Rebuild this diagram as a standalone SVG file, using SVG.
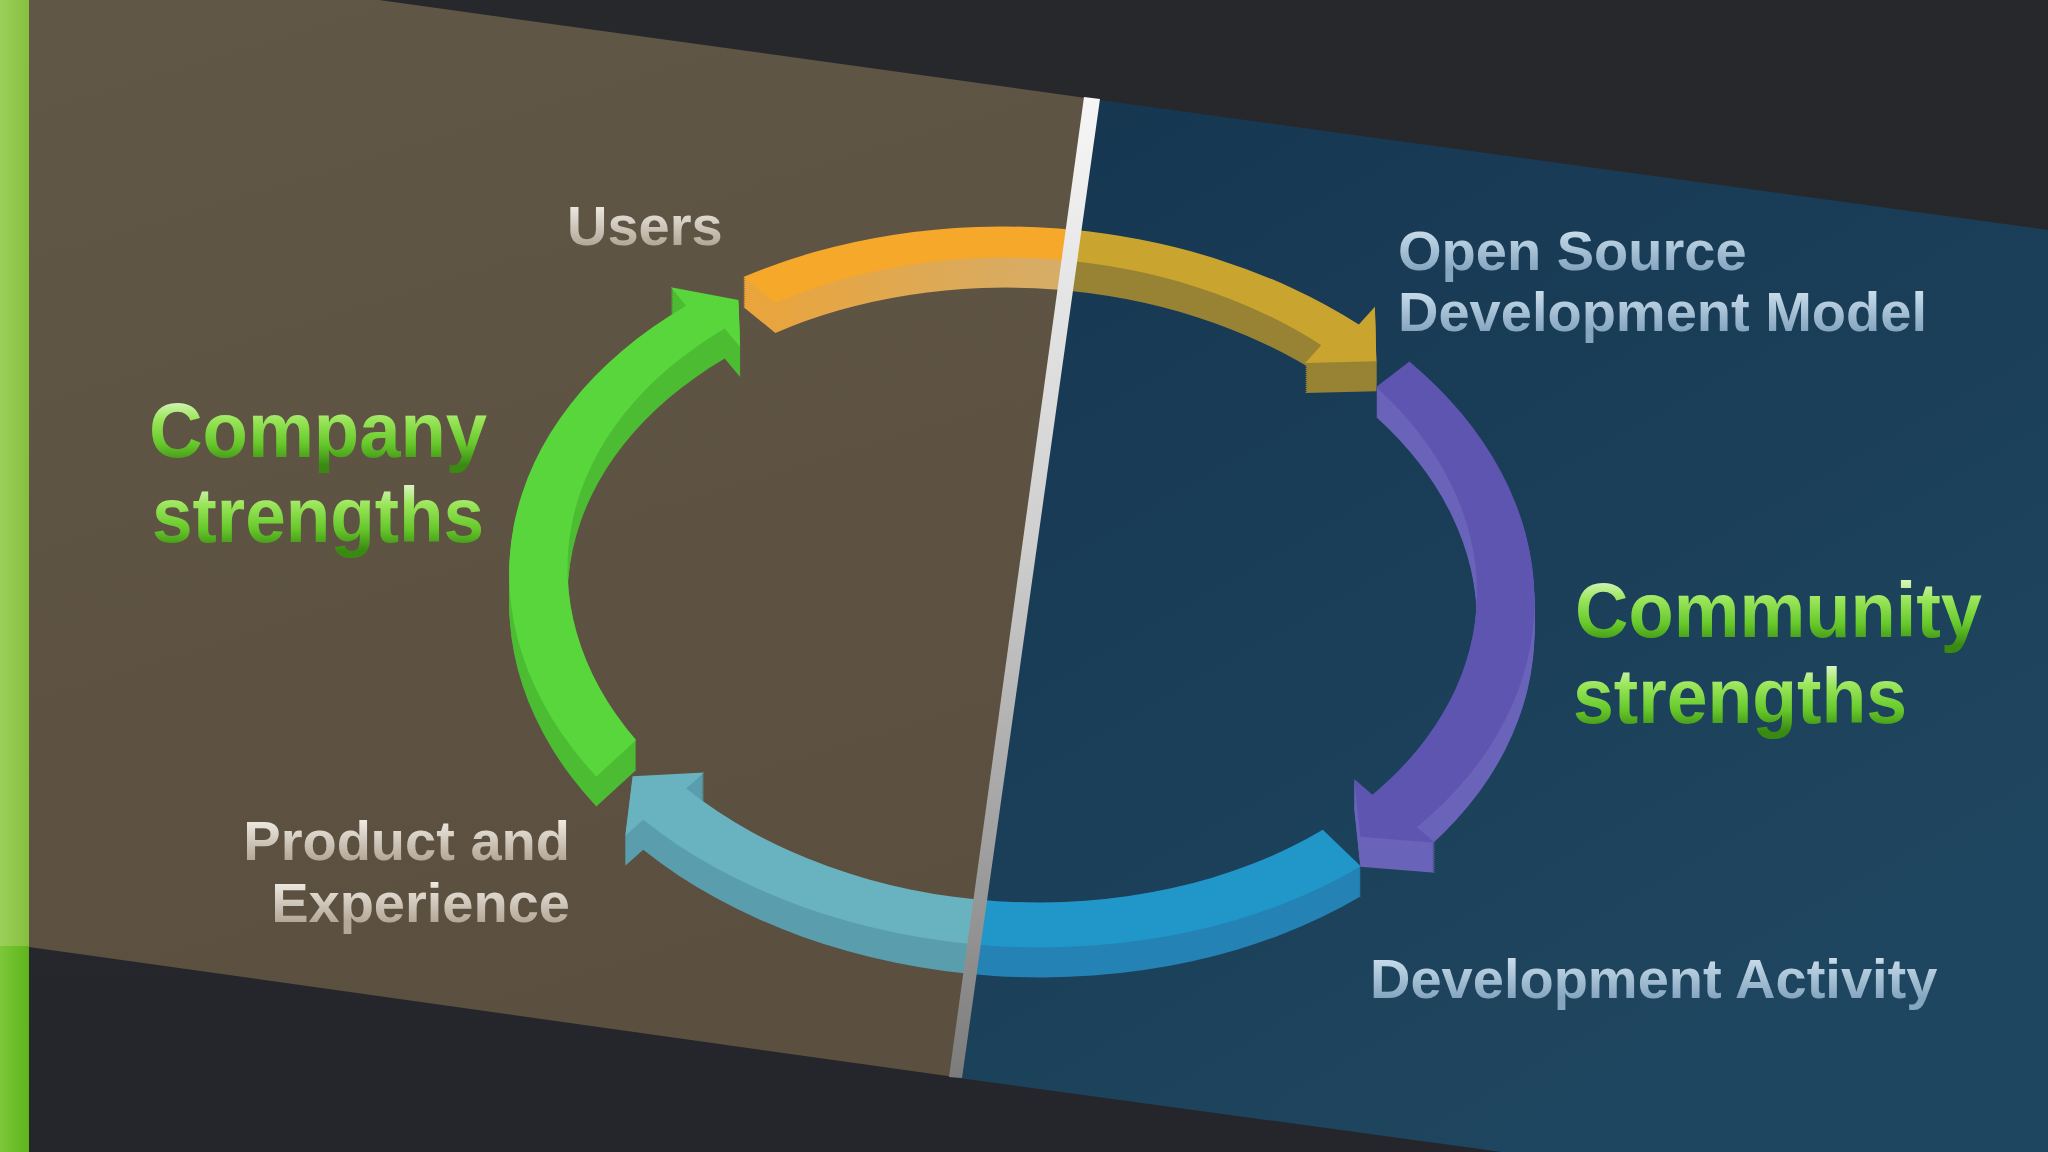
<svg xmlns="http://www.w3.org/2000/svg" width="2048" height="1152" viewBox="0 0 2048 1152">
<defs>
<style>
.lbl{font-family:"Liberation Sans",Arial,Helvetica,sans-serif;font-weight:bold;font-size:56px}
.warm{fill:url(#gWarm)}
.cool{fill:url(#gCool)}
.big{font-family:"Liberation Sans",Arial,Helvetica,sans-serif;font-weight:bold;font-size:78px;fill:url(#gGreen)}
</style>
<linearGradient id="gDark" x1="0" y1="0" x2="0" y2="1">
<stop offset="0" stop-color="#26282c"/><stop offset="1" stop-color="#24262b"/>
</linearGradient>
<linearGradient id="gStrip" x1="0" y1="0" x2="1" y2="0">
<stop offset="0" stop-color="#9ccf5a"/><stop offset="1" stop-color="#86c03e"/>
</linearGradient>
<linearGradient id="gStrip2" x1="0" y1="0" x2="1" y2="0">
<stop offset="0" stop-color="#7cc83a"/><stop offset="1" stop-color="#5fb41c"/>
</linearGradient>
<linearGradient id="gBrown" x1="0" y1="0" x2="0.3" y2="1">
<stop offset="0" stop-color="#615746"/><stop offset="1" stop-color="#5b5040"/>
</linearGradient>
<linearGradient id="gBlue" x1="0" y1="0" x2="0.6" y2="1">
<stop offset="0" stop-color="#163650"/><stop offset="1" stop-color="#1f4660"/>
</linearGradient>
<linearGradient id="gDiv" gradientUnits="userSpaceOnUse" x1="0" y1="98" x2="0" y2="1078">
<stop offset="0" stop-color="#f6f6f6"/><stop offset="0.45" stop-color="#cfcfcf"/><stop offset="1" stop-color="#7c7c7c"/>
</linearGradient>
<linearGradient id="gWarm" x1="0" y1="0" x2="0" y2="1">
<stop offset="0.1" stop-color="#f6f2ec"/><stop offset="0.8" stop-color="#b4a999"/>
</linearGradient>
<linearGradient id="gCool" x1="0" y1="0" x2="0" y2="1">
<stop offset="0.1" stop-color="#d2e4f0"/><stop offset="0.8" stop-color="#86a6c0"/>
</linearGradient>
<linearGradient id="gGreen" x1="0" y1="0" x2="0" y2="1">
<stop offset="0.12" stop-color="#e4f8d2"/><stop offset="0.38" stop-color="#9ae65a"/><stop offset="0.66" stop-color="#66c82a"/><stop offset="0.9" stop-color="#3a8a12"/>
</linearGradient>
<linearGradient id="gOrSide" x1="0" y1="0" x2="0.5" y2="0">
<stop offset="0" stop-color="#eaa43a"/><stop offset="1" stop-color="#d6ad68"/>
</linearGradient>
<clipPath id="clipL"><polygon points="0,0 1106,0 948,1152 0,1152"/></clipPath>
<clipPath id="clipR"><polygon points="1106,0 2048,0 2048,1152 948,1152"/></clipPath>

<path id="pO" transform="translate(1022,584) rotate(3)" d="M-294.3,-291.9 A513,360 0 0 1 322.8,-276.8 L337.9,-295.4 L342.2,-241.1 L271.2,-235.6 L286.3,-254.2 A455,322 0 0 0 -261,-267.8 Z"/>
<path id="pP" transform="translate(1022,584) rotate(3)" d="M375.2,-242.5 A513,360 0 0 1 407,222.2 L426.1,236.8 L351.1,234.7 L342,177.4 L361,192 A455,322 0 0 0 343.4,-215.3 Z"/>
<path id="pB" transform="translate(1022,584) rotate(3)" d="M353.1,264.1 A513,360 0 0 1 -365.9,255.3 L-383,272.1 L-378.8,212.3 L-307.4,204.9 L-324.6,221.7 A455,322 0 0 0 313.2,229.6 Z"/>
<path id="pG" transform="translate(1022,584) rotate(3)" d="M-415,214.6 A513,360 0 0 1 -349.9,-260.3 L-366.2,-277.9 L-298,-268.7 L-293.9,-222 L-310.3,-239.5 A455,322 0 0 0 -377.2,176.1 Z"/>

<g id="sO"><use href="#pO" y="2"/><use href="#pO" y="4"/><use href="#pO" y="6"/><use href="#pO" y="8"/><use href="#pO" y="10"/><use href="#pO" y="12"/><use href="#pO" y="14"/><use href="#pO" y="16"/><use href="#pO" y="18"/><use href="#pO" y="20"/><use href="#pO" y="22"/><use href="#pO" y="24"/><use href="#pO" y="26"/><use href="#pO" y="28"/><use href="#pO" y="30"/></g>
<g id="sP"><use href="#pP" y="2"/><use href="#pP" y="4"/><use href="#pP" y="6"/><use href="#pP" y="8"/><use href="#pP" y="10"/><use href="#pP" y="12"/><use href="#pP" y="14"/><use href="#pP" y="16"/><use href="#pP" y="18"/><use href="#pP" y="20"/><use href="#pP" y="22"/><use href="#pP" y="24"/><use href="#pP" y="26"/><use href="#pP" y="28"/><use href="#pP" y="30"/></g>
<g id="sB"><use href="#pB" y="2"/><use href="#pB" y="4"/><use href="#pB" y="6"/><use href="#pB" y="8"/><use href="#pB" y="10"/><use href="#pB" y="12"/><use href="#pB" y="14"/><use href="#pB" y="16"/><use href="#pB" y="18"/><use href="#pB" y="20"/><use href="#pB" y="22"/><use href="#pB" y="24"/><use href="#pB" y="26"/><use href="#pB" y="28"/><use href="#pB" y="30"/></g>
<g id="sG"><use href="#pG" y="2"/><use href="#pG" y="4"/><use href="#pG" y="6"/><use href="#pG" y="8"/><use href="#pG" y="10"/><use href="#pG" y="12"/><use href="#pG" y="14"/><use href="#pG" y="16"/><use href="#pG" y="18"/><use href="#pG" y="20"/><use href="#pG" y="22"/><use href="#pG" y="24"/><use href="#pG" y="26"/><use href="#pG" y="28"/><use href="#pG" y="30"/></g>
</defs>

<g id="background">
<rect width="2048" height="1152" fill="url(#gDark)"/>
<rect x="0" y="0" width="29" height="1152" fill="url(#gStrip2)"/>
<rect x="0" y="0" width="29" height="946" fill="url(#gStrip)"/>
<polygon id="panel-company" points="29,0 379,0 1086,98 955,1077 29,947" fill="url(#gBrown)"/>
<polygon id="panel-community" points="1092,99 2048,230 2048,1152 1502,1152 952,1077" fill="url(#gBlue)"/>
</g>

<g id="connectors">
<g id="arrow-orange">
<g clip-path="url(#clipL)"><use href="#sO" fill="url(#gOrSide)"/><use href="#pO" fill="#f6a82a"/></g>
<g clip-path="url(#clipR)"><use href="#sO" fill="#978333"/><use href="#pO" fill="#c9a42e"/></g>
</g>
<g id="arrow-purple"><use href="#sP" fill="#6a63ba"/><use href="#pP" fill="#5e55b1"/></g>
<g id="arrow-blue">
<g clip-path="url(#clipL)"><use href="#sB" fill="#5a9ead"/><use href="#pB" fill="#69b2c0"/></g>
<g clip-path="url(#clipR)"><use href="#sB" fill="#2483b4"/><use href="#pB" fill="#2196c8"/></g>
</g>
<g id="arrow-green"><use href="#sG" fill="#4cbc33"/><use href="#pG" fill="#58d63c"/></g>
</g>

<polygon id="divider" points="1084,97 1100,99 962,1078 949,1077" fill="url(#gDiv)"/>

<g id="node-users"><text class="lbl warm" x="567" y="245">Users</text></g>
<g id="node-open-source"><text class="lbl cool" x="1398" y="270">Open Source</text><text class="lbl cool" x="1398" y="331">Development Model</text></g>
<g id="node-development-activity"><text class="lbl cool" x="1370" y="998">Development Activity</text></g>
<g id="node-product"><text class="lbl warm" x="570" y="860" text-anchor="end">Product and</text><text class="lbl warm" x="570" y="922" text-anchor="end">Experience</text></g>
<g id="node-company"><text class="big" x="149" y="457" textLength="338" lengthAdjust="spacingAndGlyphs">Company</text><text class="big" x="152" y="542" textLength="332" lengthAdjust="spacingAndGlyphs">strengths</text></g>
<g id="node-community"><text class="big" x="1575" y="637" textLength="407" lengthAdjust="spacingAndGlyphs">Community</text><text class="big" x="1573" y="723" textLength="334" lengthAdjust="spacingAndGlyphs">strengths</text></g>
</svg>
